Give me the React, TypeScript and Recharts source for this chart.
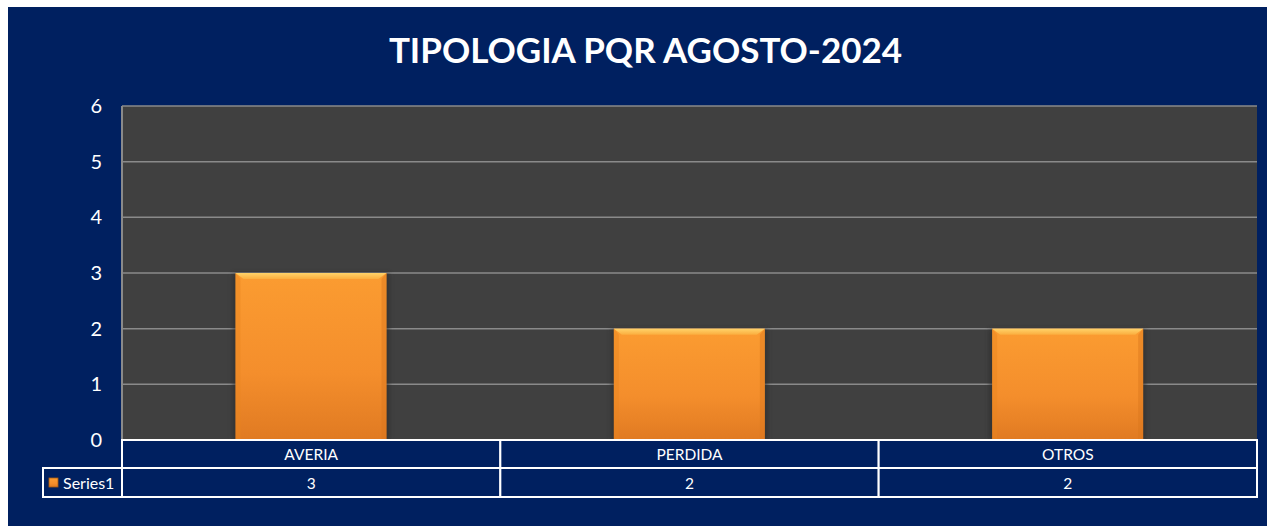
import React from "react";
import { BarChart, Bar, XAxis, YAxis, CartesianGrid } from "recharts";

const categories = ["AVERIA", "PERDIDA", "OTROS"];
const series1 = [3, 2, 2];
const yTicks = [0, 1, 2, 3, 4, 5, 6];
const seriesName = "Series1";
const title = "TIPOLOGIA PQR AGOSTO-2024";

const data = categories.map((name, i) => ({ name, value: series1[i] }));

const W = 1259;
const H = 519;
const MARGIN = { top: 99, right: 10, bottom: 29, left: 0 };
const Y_WIDTH = 114;
const TABLE_H = 57;
const ROW_H = 28;
const LEGEND_W = 79;
const FONT = "Lato, 'Open Sans', sans-serif";
const NAVY = "#002060";

const plotWidth = W - MARGIN.left - MARGIN.right - Y_WIDTH;
const cellW = plotWidth / categories.length;

function TableTick(props: any) {
  const { x, y, payload, index } = props;
  const left = x - cellW / 2;
  const i = payload.index ?? index;
  return (
    <g>
      <rect x={left} y={y} width={cellW} height={ROW_H} fill={NAVY} stroke="#fff" strokeWidth={2} />
      <rect x={left} y={y + ROW_H} width={cellW} height={TABLE_H - ROW_H} fill={NAVY} stroke="#fff" strokeWidth={2} />
      <text x={x} y={y + 20} textAnchor="middle" fill="#fff" fontSize={15.5} fontFamily={FONT}>
        {payload.value}
      </text>
      <text x={x} y={y + ROW_H + 21} textAnchor="middle" fill="#fff" fontSize={15.5} fontFamily={FONT}>
        {series1[i]}
      </text>
      {i === 0 && (
        <g>
          <rect x={left - LEGEND_W} y={y + ROW_H} width={LEGEND_W} height={TABLE_H - ROW_H} fill={NAVY} stroke="#fff" strokeWidth={2} />
          <rect x={left - LEGEND_W + 6} y={y + ROW_H + 10} width={9} height={9} fill="url(#barGrad)" stroke="#a85a10" strokeWidth={0.8} />
          <text x={left - LEGEND_W + 20} y={y + ROW_H + 21} fill="#fff" fontSize={16} fontFamily={FONT}>
            {seriesName}
          </text>
        </g>
      )}
    </g>
  );
}

function BevelBar(props: any) {
  const { x, y, width, height } = props;
  if (!height || height <= 0) return null;
  return (
    <g>
      <rect x={x - 3} y={y} width={width + 6} height={height} fill="#2a2a2a" opacity={0.55} filter="url(#blur)" />
      <rect x={x} y={y} width={width} height={height} fill="url(#barGrad)" />
      <polygon
        points={`${x},${y} ${x + width},${y} ${x + width - 8},${y + 6} ${x + 8},${y + 6}`}
        fill="url(#topGrad)"
      />
      <polygon
        points={`${x},${y} ${x + 5},${y + 6} ${x + 5},${y + height} ${x},${y + height}`}
        fill="#e8841f"
        opacity={0.45}
      />
      <polygon
        points={`${x + width},${y} ${x + width - 5},${y + 6} ${x + width - 5},${y + height} ${x + width},${y + height}`}
        fill="#d9761c"
        opacity={0.45}
      />
    </g>
  );
}

export default function App() {
  return (
    <div style={{ position: "fixed", left: 8, top: 7, width: W, height: H, background: NAVY }}>
      <style>{"html, body { overflow: hidden; }"}</style>
      <div
        style={{
          position: "absolute",
          top: 21,
          left: 8,
          width: W,
          textAlign: "center",
          color: "#fff",
          fontFamily: FONT,
          fontWeight: 700,
          fontSize: 35,
          lineHeight: "42px",
        }}
      >
        {title}
      </div>
      <BarChart width={W} height={H} data={data} margin={MARGIN} barCategoryGap="30%">
        <defs>
          <linearGradient id="barGrad" x1="0" y1="0" x2="0" y2="1">
            <stop offset="0%" stopColor="#fb9c31" />
            <stop offset="60%" stopColor="#f48e2c" />
            <stop offset="100%" stopColor="#e07a22" />
          </linearGradient>
          <linearGradient id="topGrad" x1="0" y1="0" x2="0" y2="1">
            <stop offset="0%" stopColor="#ffd36a" />
            <stop offset="100%" stopColor="#fbae3f" />
          </linearGradient>
          <filter id="blur" x="-10%" y="-10%" width="120%" height="120%">
            <feGaussianBlur stdDeviation="2" />
          </filter>
        </defs>
        <CartesianGrid vertical={false} stroke="#8a8a8a" strokeWidth={1.5} fill="#404040" />
        <YAxis
          width={Y_WIDTH}
          domain={[0, 6]}
          ticks={yTicks}
          tickSize={0}
          tickMargin={20}
          axisLine={{ stroke: "#8a8a8a", strokeWidth: 2 }}
          tick={{ fill: "#fff", fontSize: 20, fontFamily: FONT }}
          interval={0}
        />
        <XAxis
          dataKey="name"
          height={TABLE_H}
          tickSize={0}
          tickMargin={0}
          axisLine={false}
          interval={0}
          tick={<TableTick />}
        />
        <Bar dataKey="value" name={seriesName} shape={<BevelBar />} isAnimationActive={false} />
      </BarChart>
    </div>
  );
}
